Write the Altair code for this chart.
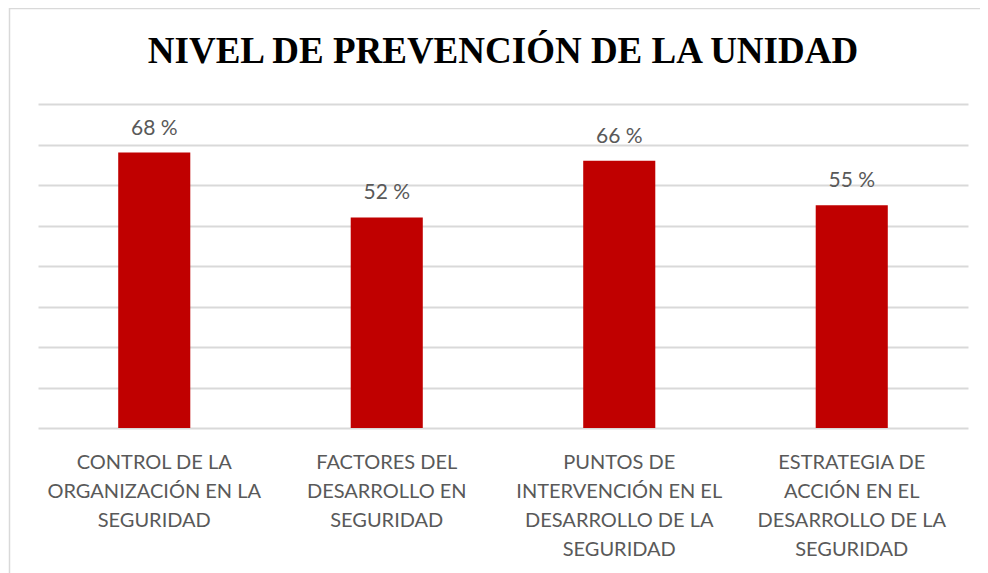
import altair as alt
import pandas as pd

title_text = ["NIVEL DE PREVENCIÓN DE LA UNIDAD"]
categories = [
    "CONTROL DE LA|ORGANIZACIÓN EN LA|SEGURIDAD",
    "FACTORES DEL|DESARROLLO EN|SEGURIDAD",
    "PUNTOS DE|INTERVENCIÓN EN EL|DESARROLLO DE LA|SEGURIDAD",
    "ESTRATEGIA DE|ACCIÓN EN EL|DESARROLLO DE LA|SEGURIDAD",
]
values = [68, 52, 66, 55]
value_labels = ["68 %", "52 %", "66 %", "55 %"]
grid_ticks = [0, 10, 20, 30, 40, 50, 60, 70, 80]

df = pd.DataFrame({"cat": categories, "val": values, "lab": value_labels})

x_enc = alt.X(
    "cat:N",
    sort=categories,
    scale=alt.Scale(paddingInner=0.69, paddingOuter=0.345),
    axis=alt.Axis(
        title=None,
        labelAngle=0,
        labelExpr="split(datum.label, '|')",
        labelFont="Lato",
        labelFontSize=20,
        labelColor="#595959",
        labelLineHeight=29,
        labelPadding=34,
        labelBaseline="middle",
        labelLimit=400,
        ticks=False,
        domain=False,
        grid=False,
    ),
)
y_enc = alt.Y(
    "val:Q",
    scale=alt.Scale(domain=[0, 80], nice=False),
    axis=alt.Axis(
        title=None,
        values=grid_ticks,
        labels=False,
        ticks=False,
        domain=False,
        grid=True,
        gridColor="#d9d9d9",
        gridWidth=2,
    ),
)

base = alt.Chart(df)
bars = base.mark_bar(color="#C00000").encode(x=x_enc, y=y_enc)
text = base.mark_text(
    font="Lato", fontSize=21, color="#595959", baseline="bottom", dy=-14
).encode(x=alt.X("cat:N", sort=categories), y="val:Q", text="lab:N")

frame = alt.Chart(pd.DataFrame({"a": [0]})).mark_rect(
    fill=None, stroke="#d9d9d9", strokeWidth=1.5
).encode(
    x=alt.value(-28.5), x2=alt.value(1100), y=alt.value(-95.5), y2=alt.value(700)
)

title = alt.Chart(pd.DataFrame({"t": title_text})).mark_text(
    font="Liberation Serif", fontSize=37, fontWeight="bold", color="#000000",
    align="center", baseline="alphabetic"
).encode(x=alt.value(465), y=alt.value(-41), text="t:N")

chart = alt.layer(frame, title, bars, text).properties(
    width=930,
    height=324,
    autosize=alt.AutoSizeParams(type="none"),
    padding={"left": 30, "top": 96, "right": 12, "bottom": 145},
).configure_view(stroke=None)

chart.save("out.html", embed_options={"renderer": "svg", "actions": False})
